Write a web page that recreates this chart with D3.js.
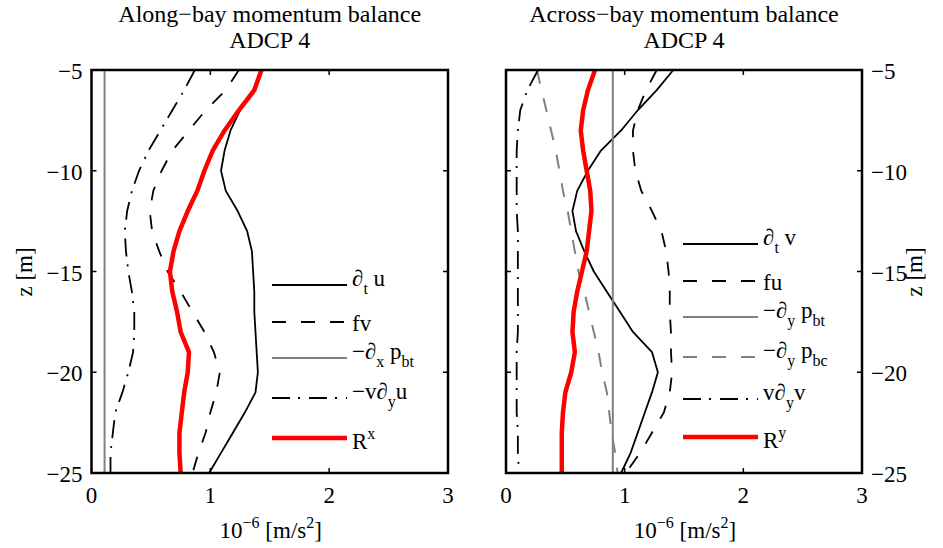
<!DOCTYPE html>
<html>
<head>
<meta charset="utf-8">
<script src="https://cdn.jsdelivr.net/npm/d3@7"></script>
<style>
  html, body { margin: 0; padding: 0; background: #fff; }
  svg { display: block; font-family: "Liberation Serif", "Times New Roman", serif; }
</style>
</head>
<body>
<svg id="chart" width="943" height="548"></svg>
<script>
// Depth levels (m)
const depth = [-5, -6, -7, -8, -9, -10, -11, -12, -13, -14, -15,
               -16, -17, -18, -19, -20, -21, -22, -23, -24, -25];

// Along-bay terms, 10^-6 m/s^2
const dtU   = [1.43, 1.36, 1.25, 1.17, 1.12, 1.09, 1.13, 1.23, 1.31, 1.35, 1.36,
               1.37, 1.37, 1.38, 1.39, 1.40, 1.38, 1.29, 1.19, 1.09, 0.99];
const fV    = [1.24, 1.13, 0.96, 0.82, 0.68, 0.59, 0.52, 0.49, 0.51, 0.57, 0.64,
               0.75, 0.85, 0.95, 1.03, 1.08, 1.05, 1.00, 0.96, 0.90, 0.85];
const dxPbt = 0.11;
const vDyU  = [0.87, 0.78, 0.68, 0.58, 0.48, 0.40, 0.34, 0.30, 0.28, 0.29, 0.31,
               0.34, 0.36, 0.36, 0.35, 0.31, 0.26, 0.20, 0.18, 0.16, 0.16];
const resX  = [1.43, 1.37, 1.24, 1.12, 1.02, 0.95, 0.89, 0.81, 0.74, 0.69, 0.66,
               0.68, 0.72, 0.75, 0.82, 0.81, 0.78, 0.76, 0.74, 0.74, 0.75];

// Across-bay terms, 10^-6 m/s^2
const dtV   = [1.41, 1.27, 1.11, 0.97, 0.80, 0.69, 0.60, 0.56, 0.59, 0.66, 0.74,
               0.85, 0.96, 1.07, 1.23, 1.28, 1.23, 1.17, 1.11, 1.05, 0.97];
const fU    = [1.27, 1.18, 1.11, 1.07, 1.07, 1.09, 1.14, 1.23, 1.31, 1.35, 1.37,
               1.38, 1.38, 1.39, 1.39, 1.40, 1.38, 1.33, 1.23, 1.13, 1.01];
const dyPbt = 0.90;
const dyPbc = [0.26, 0.30, 0.34, 0.38, 0.42, 0.45, 0.48, 0.52, 0.55, 0.58, 0.61,
               0.66, 0.70, 0.74, 0.78, 0.81, 0.85, 0.87, 0.89, 0.92, 0.94];
const vDyV  = [0.27, 0.18, 0.12, 0.10, 0.09, 0.09, 0.09, 0.09, 0.10, 0.10, 0.10,
               0.10, 0.10, 0.10, 0.09, 0.09, 0.09, 0.09, 0.10, 0.10, 0.11];
const resY  = [0.75, 0.69, 0.65, 0.63, 0.65, 0.68, 0.71, 0.72, 0.70, 0.68, 0.64,
               0.60, 0.57, 0.56, 0.58, 0.55, 0.50, 0.48, 0.47, 0.47, 0.47];

// Axis ticks
const xTicks = [0, 1, 2, 3];
const yTicks = [-5, -10, -15, -20, -25];

const svg = d3.select("#chart");
const MINUS = "\u2212";
const FONT = 23;
const SMALL = 16;

const styles = {
  solid:   { color: "#000", width: 1.8, dash: null },
  dashed:  { color: "#000", width: 1.8, dash: "14,15" },
  gray:    { color: "#808080", width: 2, dash: null },
  grayDash:{ color: "#808080", width: 2, dash: "14,15" },
  dashDot: { color: "#000", width: 1.8, dash: "18,8,2,9" },
  red:     { color: "#ff0000", width: 4.5, dash: null }
};

// Writes rich text made of pieces: {t, sub} / {t, sup}
function richText(sel, x, y, pieces, anchor) {
  const t = sel.append("text").attr("x", x).attr("y", y)
    .attr("font-size", FONT).attr("fill", "#000")
    .attr("text-anchor", anchor || "start");
  let shift = 0;
  pieces.forEach(p => {
    const target = p.sub ? 8 : p.sup ? -10 : 0;
    const s = t.append("tspan").text(p.t).attr("dy", target - shift);
    if (p.sub || p.sup) s.attr("font-size", SMALL);
    shift = target;
  });
  return t;
}

function panel(opt) {
  const x = d3.scaleLinear().domain([0, 3]).range([opt.left, opt.right]);
  const y = d3.scaleLinear().domain([-5, -25]).range([70, 473]);
  const g = svg.append("g");
  const cx = (opt.left + opt.right) / 2;

  // Titles
  g.append("text").attr("x", cx).attr("y", 22)
    .attr("text-anchor", "middle").attr("font-size", 24).text(opt.title);
  g.append("text").attr("x", cx).attr("y", 48)
    .attr("text-anchor", "middle").attr("font-size", 24).text("ADCP 4");

  const line = d3.line().x(d => x(d[0])).y(d => y(d[1]));
  opt.series.forEach(s => {
    const pts = Array.isArray(s.values)
      ? s.values.map((v, i) => [v, depth[i]])
      : [[s.values, depth[0]], [s.values, depth[depth.length - 1]]];
    const st = styles[s.style];
    g.append("path").attr("d", line(pts)).attr("fill", "none")
      .attr("stroke", st.color).attr("stroke-width", st.width)
      .attr("stroke-dasharray", st.dash).attr("stroke-linejoin", "round");
  });

  // Inward ticks on all four sides
  const tl = 5;
  xTicks.forEach(t => {
    g.append("line").attr("x1", x(t)).attr("x2", x(t)).attr("y1", y(-25)).attr("y2", y(-25) - tl)
      .attr("stroke", "#000").attr("stroke-width", 1.5);
    g.append("line").attr("x1", x(t)).attr("x2", x(t)).attr("y1", y(-5)).attr("y2", y(-5) + tl)
      .attr("stroke", "#000").attr("stroke-width", 1.5);
    g.append("text").attr("x", x(t)).attr("y", 503).attr("text-anchor", "middle")
      .attr("font-size", FONT).text(t);
  });
  yTicks.forEach(t => {
    g.append("line").attr("x1", x(0)).attr("x2", x(0) + tl).attr("y1", y(t)).attr("y2", y(t))
      .attr("stroke", "#000").attr("stroke-width", 1.5);
    g.append("line").attr("x1", x(3)).attr("x2", x(3) - tl).attr("y1", y(t)).attr("y2", y(t))
      .attr("stroke", "#000").attr("stroke-width", 1.5);
    const lbl = String(t).replace("-", MINUS);
    if (opt.yAxis === "left") {
      g.append("text").attr("x", x(0) - 9).attr("y", y(t) + 9).attr("text-anchor", "end")
        .attr("font-size", FONT).text(lbl);
    } else {
      g.append("text").attr("x", x(3) + 9).attr("y", y(t) + 9).attr("text-anchor", "start")
        .attr("font-size", FONT).text(lbl);
    }
  });

  // Frame
  g.append("rect").attr("x", x(0)).attr("y", y(-5))
    .attr("width", x(3) - x(0)).attr("height", y(-25) - y(-5))
    .attr("fill", "none").attr("stroke", "#000").attr("stroke-width", 2.5);

  // Axis labels
  richText(g, cx + 1, 538,
    [{ t: "10" }, { t: MINUS + "6", sup: true }, { t: " [m/s" }, { t: "2", sup: true }, { t: "]" }], "middle");
  const zx = opt.yAxis === "left" ? 32 : 922;
  g.append("text").attr("transform", `translate(${zx},272) rotate(-90)`)
    .attr("text-anchor", "middle").attr("font-size", FONT).text("z [m]");

  // Legend
  opt.series.forEach((s, i) => {
    const ly = opt.legendRows[i];
    const st = styles[s.style];
    g.append("line").attr("x1", opt.legendX).attr("x2", opt.legendX + 75)
      .attr("y1", ly).attr("y2", ly)
      .attr("stroke", st.color).attr("stroke-width", st.width)
      .attr("stroke-dasharray", st.dash);
    const hasSub = s.label.some(p => p.sub);
    const hasSup = s.label.some(p => p.sup);
    const base = hasSub ? ly + 1 : hasSup ? ly + 11 : ly + 9;
    richText(g, opt.legendX + 80, base, s.label);
  });
}

panel({
  left: 91.5, right: 448, yAxis: "left",
  title: "Along" + MINUS + "bay momentum balance",
  legendX: 272,
  legendRows: [285, 322, 358, 398, 438],
  series: [
    { values: dtU, style: "solid", label: [{ t: "\u2202" }, { t: "t", sub: true }, { t: " u" }] },
    { values: fV, style: "dashed", label: [{ t: "fv" }] },
    { values: dxPbt, style: "gray", label: [{ t: MINUS + "\u2202" }, { t: "x", sub: true }, { t: " p" }, { t: "bt", sub: true }] },
    { values: vDyU, style: "dashDot", label: [{ t: MINUS + "v\u2202" }, { t: "y", sub: true }, { t: "u" }] },
    { values: resX, style: "red", label: [{ t: "R" }, { t: "x", sup: true }] }
  ]
});

panel({
  left: 506, right: 862, yAxis: "right",
  title: "Across" + MINUS + "bay momentum balance",
  legendX: 683,
  legendRows: [244, 281, 317, 357, 399, 437],
  series: [
    { values: dtV, style: "solid", label: [{ t: "\u2202" }, { t: "t", sub: true }, { t: " v" }] },
    { values: fU, style: "dashed", label: [{ t: "fu" }] },
    { values: dyPbt, style: "gray", label: [{ t: MINUS + "\u2202" }, { t: "y", sub: true }, { t: " p" }, { t: "bt", sub: true }] },
    { values: dyPbc, style: "grayDash", label: [{ t: MINUS + "\u2202" }, { t: "y", sub: true }, { t: " p" }, { t: "bc", sub: true }] },
    { values: vDyV, style: "dashDot", label: [{ t: "v\u2202" }, { t: "y", sub: true }, { t: "v" }] },
    { values: resY, style: "red", label: [{ t: "R" }, { t: "y", sup: true }] }
  ]
});
</script>
</body>
</html>
